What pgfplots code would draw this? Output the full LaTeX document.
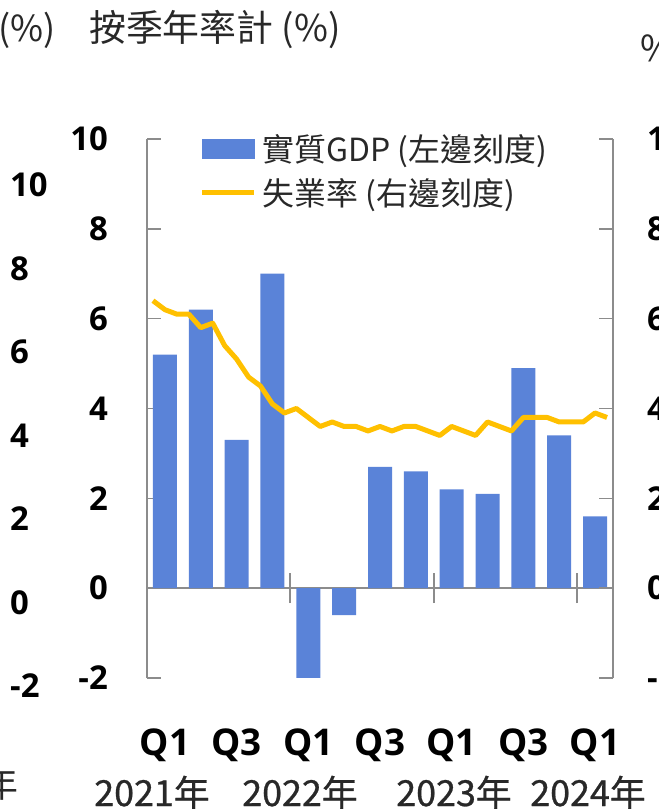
\documentclass[border=0pt]{standalone}
\usepackage{fontspec}
\setmainfont{Open Sans}
\newfontfamily\cjk{Noto Sans CJK TC}
\newfontfamily\cjkheavy[FakeBold=0.8]{Noto Sans CJK TC}
\usepackage{pgfplots}
\usepackage{pgfplotstable}
\pgfplotsset{compat=1.18}

\definecolor{barblue}{RGB}{90,131,216}
\definecolor{gold}{RGB}{255,192,0}
\definecolor{axgray}{RGB}{140,140,140}
\definecolor{txt}{RGB}{40,40,40}

% real GDP, annualised q/q (%), 2021Q1 .. 2024Q1
\pgfplotstableread{
q gdp
0 5.2
1 6.2
2 3.3
3 7.0
4 -2.0
5 -0.6
6 2.7
7 2.6
8 2.2
9 2.1
10 4.9
11 3.4
12 1.6
}\gdptable

% unemployment rate (%), monthly, 2021-01 .. 2024-03
\pgfplotstableread{
m ur
0 6.4
1 6.2
2 6.1
3 6.1
4 5.8
5 5.9
6 5.4
7 5.1
8 4.7
9 4.5
10 4.1
11 3.9
12 4.0
13 3.8
14 3.6
15 3.7
16 3.6
17 3.6
18 3.5
19 3.6
20 3.5
21 3.6
22 3.6
23 3.5
24 3.4
25 3.6
26 3.5
27 3.4
28 3.7
29 3.6
30 3.5
31 3.8
32 3.8
33 3.8
34 3.7
35 3.7
36 3.7
37 3.9
38 3.8
}\urtable

\newcommand{\tickfont}{\bfseries\fontsize{33}{33}\selectfont}

\begin{document}
\begin{tikzpicture}
\path[use as bounding box] (0bp,0bp) rectangle (659bp,809bp);
\clip (0bp,0bp) rectangle (659bp,809bp);

\pgfplotsset{
  base/.style={
    at={(147bp,131bp)}, anchor=south west,
    scale only axis, width=466bp, height=539bp,
    xmin=-0.5, xmax=12.5, ymin=-2, ymax=10,
    ytick={-2,0,2,4,6,8,10},
    yticklabels={-2,0,2,4,6,8,10},
    tick align=inside, major tick length=14bp,
    every tick/.style={axgray, line width=1.5bp},
    axis line style={axgray, line width=1.5bp},
    yticklabel style={font=\tickfont, text=black, inner sep=0pt},
  }
}

\begin{axis}[
  base,
  axis y line*=left, axis x line*=middle,
  yticklabel style={anchor=east, xshift=-39bp},
  xtick={0,2,4,6,8,10,12},
  xticklabels={Q1,Q3,Q1,Q3,Q1,Q3,Q1},
  xtick style={draw=none},
  xticklabel style={font=\bfseries\fontsize{37}{37}\selectfont, text=black,
    inner sep=0pt, anchor=base, yshift=-167bp},
  legend style={at={(axis description cs:0.1137,1.009)}, anchor=north west,
    draw=none, fill=none, inner sep=0pt, outer sep=0pt,
    row sep=16bp, column sep=6bp,
    font=\cjk\fontsize{32}{32}\selectfont, text=txt,
    nodes={inner sep=0pt}},
  legend cell align=left,
]
\addplot[ybar, bar width=24bp, fill=barblue, draw=none, forget plot]
  table[x=q, y=gdp] {\gdptable};
% year boundaries crossing the zero line
\addplot[axgray, line width=2bp, forget plot] coordinates {(3.5,-0.333) (3.5,0.333)};
\addplot[axgray, line width=2bp, forget plot] coordinates {(7.5,-0.333) (7.5,0.333)};
\addplot[axgray, line width=2bp, forget plot] coordinates {(11.5,-0.333) (11.5,0.333)};
\addlegendimage{legend image code/.code={\fill[barblue] (0bp,-9.5bp) rectangle (52bp,9.5bp);}}
\addlegendentry{實質GDP (左邊刻度)}
\addlegendimage{legend image code/.code={\draw[gold, line width=5bp] (0bp,0bp) -- (52bp,0bp);}}
\addlegendentry{失業率 (右邊刻度)}
\end{axis}

\begin{axis}[
  base,
  axis y line*=right, axis x line=none,
  yticklabel style={anchor=west, xshift=34bp},
]
\addplot[gold, line width=5bp, line join=round, no markers]
  table[x expr=\thisrow{m}/3-1/3, y=ur] {\urtable};
\end{axis}

% titles
\node[anchor=west, inner sep=0pt, text=txt, font=\cjk\fontsize{37}{37}\selectfont]
  at (89bp,779bp) {按季年率計 (\%)};
\node[anchor=west, inner sep=0pt, text=txt, font=\cjk\fontsize{36}{36}\selectfont]
  at (-2bp,779bp) {(\%)};
\node[anchor=west, inner sep=0pt, text=txt, font=\cjk\fontsize{36}{36}\selectfont]
  at (640bp,761bp) {\%};

% year labels
\foreach \yr/\xx in {2021/152,2022/300,2023/454,2024/588}{
  \node[anchor=base, inner sep=0pt, text=txt, font=\cjkheavy\fontsize{36}{36}\selectfont]
    at (\xx bp,3bp) {\yr 年};
}
\node[anchor=base, inner sep=0pt, text=txt, font=\cjk\fontsize{36}{36}\selectfont]
  at (0bp,12bp) {年};

% neighbouring panel's axis labels (cut off at left)
\foreach \v [count=\k from 0] in {10,8,6,4,2,0,-2}{
  \node[anchor=west, inner sep=0pt, font=\tickfont]
    at (10bp,{(809-185-83.5*\k)*1bp}) {\v};
}
\end{tikzpicture}
\end{document}
